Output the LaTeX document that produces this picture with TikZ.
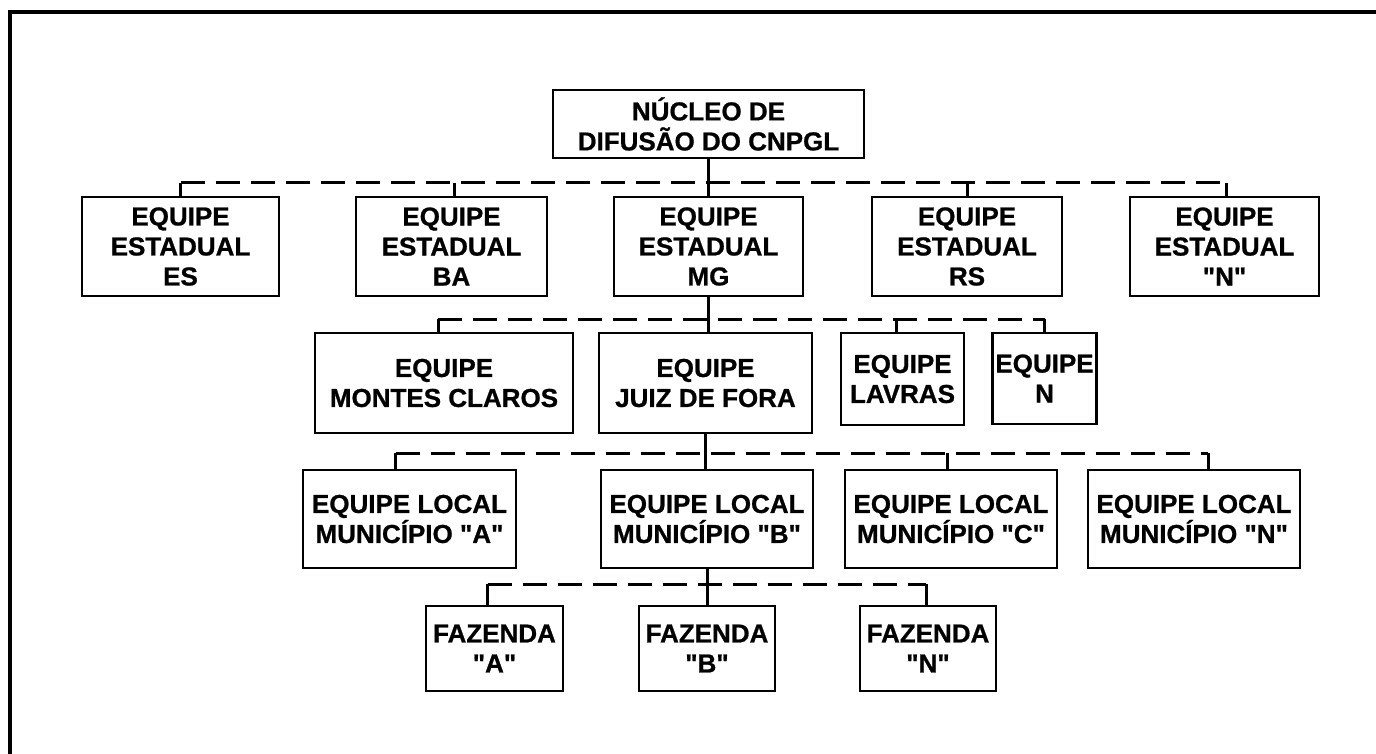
\documentclass[tikz,border=0pt]{standalone}
\usepackage{fontspec}
\setmainfont{Liberation Sans}[Ligatures=TeXOff, BoldFeatures={FakeBold=0.8}]
\begin{document}
\begin{tikzpicture}[x=1pt,y=-1pt,
  box/.style={draw, line width=2.6pt, inner sep=0pt, align=center,
    font=\fontsize{26}{30}\selectfont\bfseries},
  bus/.style={line width=3pt, dash pattern=on 24pt off 11pt},
  conn/.style={line width=3pt},
  frame/.style={line width=4pt}]
\useasboundingbox (0,0) rectangle (1376,754);
\draw[frame] (10,756) -- (10,12) -- (1378,12);
% level 0
\node[box, minimum width=311pt, minimum height=68pt] (root) at (708.5,124) {NÚCLEO DE\\DIFUSÃO DO CNPGL};
% level 1
\node[box, minimum width=197pt, minimum height=99pt] (es) at (180.5,246.5) {EQUIPE\\ESTADUAL\\ES};
\node[box, minimum width=191pt, minimum height=99pt] (ba) at (451.5,246.5) {EQUIPE\\ESTADUAL\\BA};
\node[box, minimum width=189pt, minimum height=99pt] (mg) at (708.5,246.5) {EQUIPE\\ESTADUAL\\MG};
\node[box, minimum width=190pt, minimum height=99pt] (rs) at (967,246.5) {EQUIPE\\ESTADUAL\\RS};
\node[box, minimum width=189pt, minimum height=99pt] (en) at (1224.5,246.5) {EQUIPE\\ESTADUAL\\"N"};
% level 2
\node[box, minimum width=258pt, minimum height=100pt] (mc) at (444,383) {EQUIPE\\MONTES CLAROS};
\node[box, minimum width=213pt, minimum height=100pt] (jf) at (705.5,383) {EQUIPE\\JUIZ DE FORA};
\node[box, minimum width=123pt, minimum height=92pt] (lv) at (902.5,379) {EQUIPE\\LAVRAS};
\node[box, minimum width=104pt, minimum height=91pt] (eqn) at (1044.5,378.5) {EQUIPE\\N};
% level 3
\node[box, minimum width=213pt, minimum height=98pt] (ma) at (409.5,519) {EQUIPE LOCAL\\MUNICÍPIO "A"};
\node[box, minimum width=212pt, minimum height=98pt] (mb) at (707,519) {EQUIPE LOCAL\\MUNICÍPIO "B"};
\node[box, minimum width=212pt, minimum height=98pt] (mcc) at (951,519) {EQUIPE LOCAL\\MUNICÍPIO "C"};
\node[box, minimum width=212pt, minimum height=98pt] (mn) at (1194,519) {EQUIPE LOCAL\\MUNICÍPIO "N"};
% level 4
\node[box, minimum width=137pt, minimum height=85pt] (fa) at (494.5,648.5) {FAZENDA\\"A"};
\node[box, minimum width=136pt, minimum height=85pt] (fb) at (707,648.5) {FAZENDA\\"B"};
\node[box, minimum width=136pt, minimum height=85pt] (fn) at (928,648.5) {FAZENDA\\"N"};
% bus levels
\coordinate (b1) at (0,183);
\coordinate (b2) at (0,319);
\coordinate (b3) at (0,453);
\coordinate (b4) at (0,584);
% stub anchors
\coordinate (esT) at (es.north);
\coordinate (baT) at ([xshift=3pt]ba.north);
\coordinate (rsT) at (rs.north);
\coordinate (enT) at ([xshift=2pt]en.north);
\coordinate (mcT) at ([xshift=-6pt]mc.north);
\coordinate (lvT) at ([xshift=-6pt]lv.north);
\coordinate (eqnT) at (eqn.north);
\coordinate (maT) at ([xshift=-14pt]ma.north);
\coordinate (mccT) at ([xshift=-4pt]mcc.north);
\coordinate (mnT) at ([xshift=14pt]mn.north);
\coordinate (faT) at ([xshift=-7pt]fa.north);
\coordinate (fnT) at ([xshift=-2pt]fn.north);
% level 1 connectors
\draw[conn] (root.south) -- (root.south |- mg.north);
\draw[bus] (esT |- b1) -- (enT |- b1);
\foreach \p in {esT,baT,rsT,enT} \draw[conn] (\p) -- (\p |- b1);
% level 2 connectors
\draw[conn] (mg.south) -- (mg.south |- jf.north);
\draw[bus] (mcT |- b2) -- (eqnT |- b2);
\foreach \p in {mcT,lvT,eqnT} \draw[conn] (\p) -- (\p |- b2);
% level 3 connectors
\draw[conn] (jf.south) -- (jf.south |- mb.north);
\draw[bus] (maT |- b3) -- (mnT |- b3);
\foreach \p in {maT,mccT,mnT} \draw[conn] (\p) -- (\p |- b3);
% level 4 connectors
\draw[conn] (mb.south) -- (mb.south |- fb.north);
\draw[bus] (faT |- b4) -- (fnT |- b4);
\foreach \p in {faT,fnT} \draw[conn] (\p) -- (\p |- b4);
\end{tikzpicture}
\end{document}
